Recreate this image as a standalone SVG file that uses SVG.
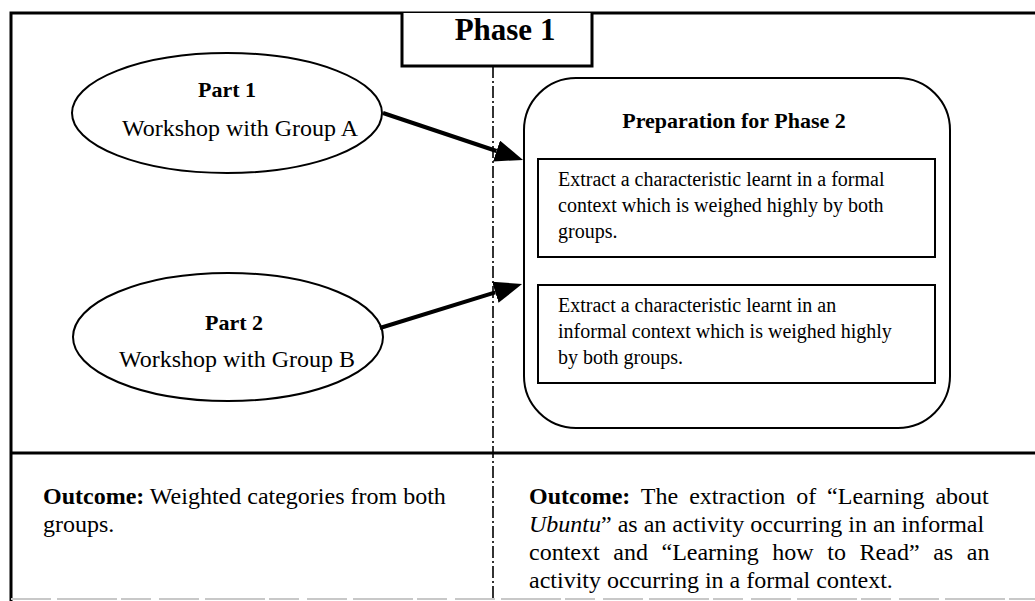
<svg xmlns="http://www.w3.org/2000/svg" width="1035" height="601" viewBox="0 0 1035 601">
<defs>
<style>
text{font-family:"Liberation Serif","Times New Roman",serif;fill:#000}
.b{font-weight:bold}
.frame{stroke:#000;stroke-width:3;fill:none}
.shape{stroke:#000;stroke-width:2;fill:#fff}
.dash{stroke:#000;stroke-width:1.6;stroke-dasharray:12 3 2 3;fill:none}
.conn{stroke:#000;stroke-width:4;fill:none;marker-end:url(#ah)}
</style>
<marker id="ah" markerUnits="userSpaceOnUse" markerWidth="28" markerHeight="22" viewBox="0 0 28 22" refX="0" refY="11" orient="auto">
<path d="M0,0 L28,11 L0,22 z" fill="#000"/>
</marker>
</defs>
<rect width="1035" height="601" fill="#fff"/>
<g id="frame">
<path class="frame" d="M11,601 V13 H1035"/>
<path class="frame" d="M11,453 H1035"/>
<path d="M11,599 H1035" stroke="#c8c8c8" stroke-width="2" stroke-dasharray="40 6 60 4 30 8"/>
<path class="dash" d="M493,66 V601"/>
</g>
<g id="phase1">
<path d="M402,13 V66 H592 V13" stroke="#000" stroke-width="3" fill="#fff"/>
<text x="505" y="40" font-size="31" class="b" text-anchor="middle">Phase 1</text>
</g>
<g id="part1">
<ellipse class="shape" cx="227" cy="113" rx="155" ry="60"/>
<text x="227" y="97" font-size="22" class="b" text-anchor="middle">Part 1</text>
<text x="240" y="136" font-size="24" text-anchor="middle">Workshop with Group A</text>
</g>
<g id="part2">
<ellipse class="shape" cx="228" cy="337" rx="155" ry="64"/>
<text x="234" y="330" font-size="22" class="b" text-anchor="middle">Part 2</text>
<text x="237" y="367" font-size="24" text-anchor="middle">Workshop with Group B</text>
</g>
<g id="preparation">
<rect class="shape" x="524" y="78" width="426" height="350" rx="52" ry="52"/>
<text x="734" y="128" font-size="22" class="b" text-anchor="middle">Preparation for Phase 2</text>
</g>
<g id="extract-formal">
<rect class="shape" x="538" y="159" width="397" height="98"/>
<text font-size="20"><tspan x="558" y="186">Extract a characteristic learnt in a formal</tspan><tspan x="558" y="212">context which is weighed highly by both</tspan><tspan x="558" y="238">groups.</tspan></text>
</g>
<g id="extract-informal">
<rect class="shape" x="538" y="285" width="397" height="98"/>
<text font-size="20"><tspan x="558" y="312">Extract a characteristic learnt in an</tspan><tspan x="558" y="338">informal context which is weighed highly</tspan><tspan x="558" y="364">by both groups.</tspan></text>
</g>
<g id="connectors">
<line class="conn" x1="383" y1="113" x2="496.5" y2="151"/>
<line class="conn" x1="380" y1="328" x2="495.3" y2="292.3"/>
</g>
<g id="outcome-left">
<text font-size="24"><tspan x="43" y="504"><tspan class="b">Outcome:</tspan> Weighted categories from both</tspan><tspan x="43" y="532">groups.</tspan></text>
</g>
<g id="outcome-right">
<text font-size="24" x="529" y="504" word-spacing="5"><tspan class="b">Outcome:</tspan> The extraction of “Learning about</text>
<text font-size="24" x="529" y="532"><tspan font-style="italic">Ubuntu</tspan>” as an activity occurring in an informal</text>
<text font-size="24" x="529" y="560" word-spacing="7.6">context and “Learning how to Read” as an</text>
<text font-size="24" x="529" y="588">activity occurring in a formal context.</text>
</g>
</svg>
